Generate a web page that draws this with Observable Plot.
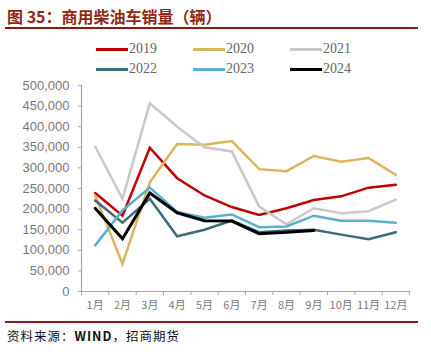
<!DOCTYPE html>
<html><head><meta charset="utf-8">
<script src="https://cdn.jsdelivr.net/npm/d3@7"></script>
<script src="https://cdn.jsdelivr.net/npm/@observablehq/plot@0.6"></script>
<style>
body{margin:0;background:#fff;}
#wrap{position:relative;width:431px;height:359px;overflow:hidden;font-family:"Noto Sans CJK SC",sans-serif;}
#title{position:absolute;left:7px;top:4px;font-size:16px;font-weight:bold;color:#8E2A12;white-space:nowrap;letter-spacing:0px;}
.rule{position:absolute;left:5px;width:413px;height:2px;background:#8B1A12;}
#legend{position:absolute;left:0;top:0;}
.li{position:absolute;display:flex;align-items:center;font-family:"Liberation Serif",serif;font-size:14px;color:#666;}
.sw{width:32px;height:3px;margin-right:1px;}
#chart{position:absolute;left:0;top:78px;}
#src{position:absolute;left:7px;top:326px;font-size:12.5px;color:#111;letter-spacing:1px;white-space:nowrap;}
</style></head>
<body><div id="wrap">
<div id="title">图 35：商用柴油车销量（辆）</div>
<div class="rule" style="top:27px"></div>
<div id="legend"></div>
<div id="chart"></div>
<div class="rule" style="top:321px"></div>
<div id="src">资料来源：<b>WIND</b>，招商期货</div>
</div>
<script>
const months = ["1月","2月","3月","4月","5月","6月","7月","8月","9月","10月","11月","12月"];
const years = ["2019","2020","2021","2022","2023","2024"];
const colors = ["#C00000","#DDB45E","#C9C9C9","#3D6A7C","#5AAFCB","#000000"];
const s2019 = [239000,184000,349000,275000,233000,205000,186000,202000,222000,231000,252000,259000];
const s2020 = [233000,67000,265000,358000,356000,365000,297000,292000,329000,315000,324000,283000];
const s2021 = [352000,225000,457000,400000,350000,340000,206000,163000,202000,190000,195000,223000];
const s2022 = [221000,167000,225000,134000,150000,172000,144000,148000,150000,138000,127000,144000];
const s2023 = [112000,197000,252000,193000,179000,187000,156000,158000,184000,172000,172000,167000];
const s2024 = [202000,128000,239000,191000,172000,171000,140000,144000,148000];
const series = [s2019,s2020,s2021,s2022,s2023,s2024];
const yTicks = d3.range(0, 500001, 50000);
const widths = [2.5,2.5,2.5,2.5,2.5,3];

// legend
const leg = document.getElementById("legend");
const legX = [96,193,290], legY = [50,70];
years.forEach((y,i)=>{
  const d = document.createElement("div");
  d.className="li";
  d.style.left = legX[i%3]+"px";
  d.style.top = (legY[Math.floor(i/3)]-9)+"px";
  d.innerHTML = `<span class="sw" style="background:${colors[i]}"></span>${y}`;
  leg.appendChild(d);
});

const xDomain = [0.5, 12.5];
const bounds = d3.range(0, 13).map(i => i + 0.5);
const data = [];
series.forEach((s,k)=> s.forEach((v,i)=> data.push({year: years[k], m: i+1, v})));

const plot = Plot.plot({
  width: 431, height: 241,
  marginLeft: 81, marginRight: 22, marginTop: 7, marginBottom: 28,
  style: {fontFamily: "Liberation Sans, Arial, sans-serif", background: "transparent"},
  x: {type: "linear", domain: xDomain, axis: null},
  y: {domain: [0, 500000], axis: null},
  marks: [
    Plot.ruleX([xDomain[0]], {stroke: "#A6A6A6", strokeWidth: 1.2}),
    Plot.ruleY([0], {stroke: "#A6A6A6", strokeWidth: 1.2}),
    Plot.axisY({ticks: yTicks, tickFormat: d3.format(","), tickSize: 3, tickPadding: 9, stroke: "#A6A6A6", color: "#7A7A7A", fontSize: 13, label: null}),
    Plot.axisX({ticks: bounds, tickFormat: () => "", tickSize: 4, stroke: "#A6A6A6", label: null}),
    Plot.axisX({ticks: d3.range(1,13), tickFormat: d => months[d-1], tickSize: 0, tickPadding: 10, color: "#7A7A7A", fontSize: 11, fontFamily: "Noto Sans CJK SC", label: null}),
    ...years.map((y,k)=> Plot.line(data.filter(d=>d.year===y), {x: "m", y: "v", stroke: colors[k], strokeWidth: widths[k], strokeLinejoin: "miter", strokeMiterlimit: 4}))
  ]
});
document.getElementById("chart").appendChild(plot);
</script>
</body></html>
